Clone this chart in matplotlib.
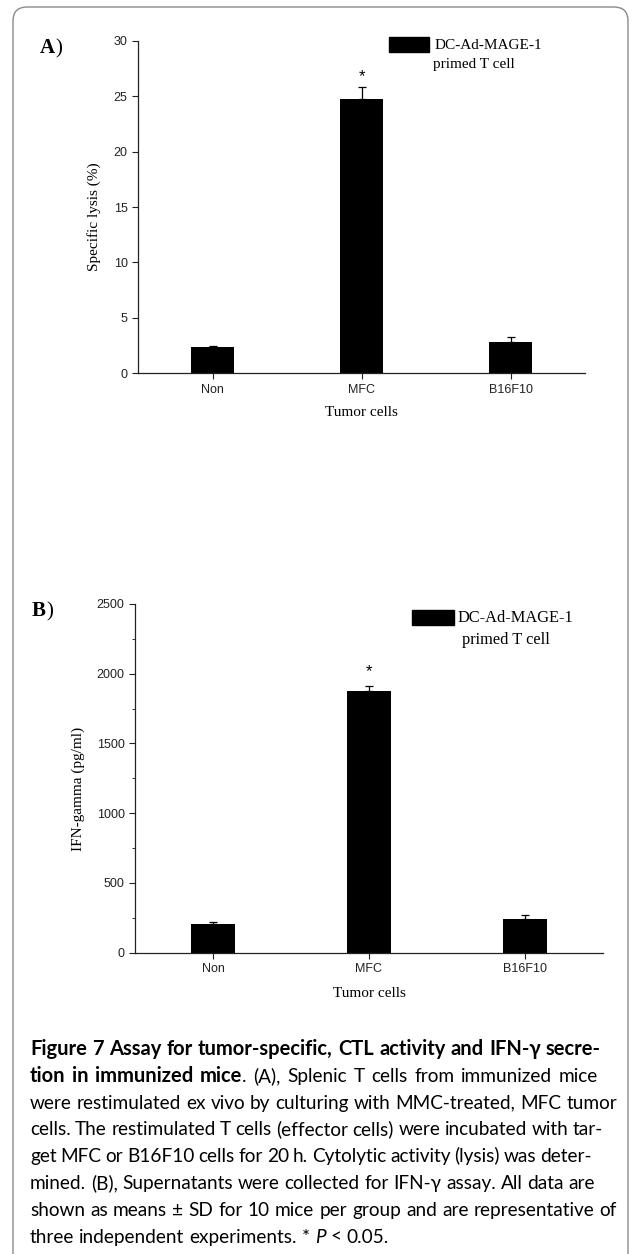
import matplotlib
matplotlib.use("Agg")
import matplotlib.pyplot as plt
from matplotlib.patches import Rectangle, FancyBboxPatch
from matplotlib.ticker import MultipleLocator
from matplotlib.transforms import IdentityTransform

# =====================
# data
# =====================
CATEGORIES = ["Non", "MFC", "B16F10"]
LYSIS = [2.35, 24.7, 2.85]
LYSIS_SD = [0.15, 1.15, 0.4]
IFN = [203, 1877, 244]
IFN_SD = [15, 33, 24]
LEGEND_LABEL = ["DC-Ad-MAGE-1", "primed T cell"]

W, H = 632, 1254
fig = plt.figure(figsize=(W / 100, H / 100), dpi=100)

SANS = "Liberation Sans"
SERIF = "Liberation Serif"
CAP = "Lato"

STYLES = {
    "b": dict(fontweight="bold", fontstyle="normal", fontsize=14.5),
    "r": dict(fontweight="normal", fontstyle="normal", fontsize=13.7),
    "i": dict(fontweight="normal", fontstyle="italic", fontsize=13.7),
}


def fy(px):
    return 1 - px / H


def put_runs(x_px, y_px, runs, size, family=SERIF):
    # place text pieces one after another on a single line
    renderer = fig.canvas.get_renderer()
    x = x_px / W
    for text, weight in runs:
        t = fig.text(x, fy(y_px), text, fontsize=size, fontweight=weight,
                     family=family, va="baseline", ha="left")
        x = t.get_window_extent(renderer).x1 / W


def split_words(runs):
    # runs -> words, each word a list of (piece, style)
    words, cur = [], []
    for text, st in runs:
        parts = text.split(" ")
        for j, p in enumerate(parts):
            if j > 0:
                if cur:
                    words.append(cur)
                cur = []
            if p:
                cur.append((p, st))
    if cur:
        words.append(cur)
    return words


def justified_line(x0, y_px, runs, x_end=None):
    renderer = fig.canvas.get_renderer()
    words = split_words(runs)
    arts = []
    for w in words:
        pieces = []
        for p, st in w:
            t = fig.text(0, fy(y_px), p, family=CAP, va="baseline", ha="left", **STYLES[st])
            pieces.append((t, t.get_window_extent(renderer).width))
        arts.append(pieces)
    widths = [sum(pw for _, pw in pieces) for pieces in arts]
    if x_end is None:
        probe = fig.text(0, 0, "x x", family=CAP, **STYLES["r"])
        probe2 = fig.text(0, 0, "xx", family=CAP, **STYLES["r"])
        gap = probe.get_window_extent(renderer).width - probe2.get_window_extent(renderer).width
        probe.remove()
        probe2.remove()
    else:
        gap = (x_end - x0 - sum(widths)) / (len(words) - 1)
    x = x0
    for pieces, wd in zip(arts, widths):
        xx = x
        for t, pw in pieces:
            t.set_x(xx / W)
            xx += pw
        x += wd + gap


def panel(rect, values, sd, ylim, major, ylabel, ylab_x, minor=None,
          star_off=10, leg=None, leg_size=10.5):
    ax = fig.add_axes(rect)
    x = range(1, len(CATEGORIES) + 1)
    ax.bar(x, values, width=0.285, color="black", zorder=2)
    ax.errorbar(x, values, yerr=[[0] * len(sd), sd], fmt="none",
                ecolor="black", elinewidth=0.9, capsize=3, capthick=0.9, zorder=3)
    ax.set_xlim(0.5, 3.5)
    ax.set_ylim(*ylim)
    ax.set_xticks(list(x))
    ax.set_xticklabels(CATEGORIES)
    ax.yaxis.set_major_locator(MultipleLocator(major))
    if minor:
        ax.yaxis.set_minor_locator(MultipleLocator(minor))
        ax.tick_params(axis="y", which="minor", direction="out", length=2.2,
                       width=0.7, color="#333333")
    for s in ["top", "right"]:
        ax.spines[s].set_visible(False)
    for s in ["left", "bottom"]:
        ax.spines[s].set_linewidth(0.9)
        ax.spines[s].set_color("#222222")
    ax.tick_params(axis="both", which="major", direction="out", length=4.5,
                   width=0.8, pad=3, labelsize=9, colors="#222222")
    for lab in ax.get_xticklabels() + ax.get_yticklabels():
        lab.set_family(SANS)
    ax.set_ylabel(ylabel, family=SERIF, fontsize=11)
    ax.yaxis.set_label_coords(ylab_x, 0.47)
    ax.set_xlabel("Tumor cells", family=SERIF, fontsize=11)
    ax.xaxis.set_label_coords(0.5, -0.098)

    # significance star above MFC
    i = CATEGORIES.index("MFC")
    ax.annotate("*", (i + 1, values[i] + sd[i]), xytext=(0, star_off),
                textcoords="offset pixels", ha="center", va="center",
                fontsize=12, family=SANS)

    # legend drawn as a filled box plus two text lines
    rx0, rx1, ry0, ry1, tx1, ty1, tx2, ty2 = leg
    ax.add_patch(Rectangle((rx0, ry0), rx1 - rx0, ry1 - ry0, transform=ax.transAxes,
                           facecolor="black", edgecolor="black", clip_on=False))
    ax.text(tx1, ty1, LEGEND_LABEL[0], transform=ax.transAxes, family=SERIF,
            fontsize=leg_size, va="center", ha="left")
    ax.text(tx2, ty2, LEGEND_LABEL[1], transform=ax.transAxes, family=SERIF,
            fontsize=leg_size, va="center", ha="left")
    return ax


axA = panel([138 / W, fy(373.3), 447 / W, 332.6 / H], LYSIS, LYSIS_SD, (0, 30), 5,
            "Specific lysis (%)", -0.082, star_off=10,
            leg=(0.5615, 0.651, 0.967, 1.010, 0.664, 0.985, 0.660, 0.928),
            leg_size=11)
axB = panel([135 / W, fy(952.7), 468 / W, 348.7 / H], IFN, IFN_SD, (0, 2500), 500,
            "IFN-gamma (pg/ml)", -0.107, minor=250, star_off=15,
            leg=(0.592, 0.682, 0.940, 0.983, 0.690, 0.961, 0.699, 0.898),
            leg_size=11.8)

# panel letters
put_runs(40, 53, [("A", "bold"), (")", "normal")], 15)
put_runs(32, 616, [("B", "bold"), (")", "normal")], 15)

# caption, justified like the journal page
CAPTION = [
    ([("Figure 7 Assay for tumor-specific, CTL activity and IFN-\u03b3 secre-", "b")], 601),
    ([("tion in immunized mice", "b"), (". (A), Splenic T cells from immunized mice", "r")], 598),
    ([("were restimulated ex vivo by culturing with MMC-treated, MFC tumor", "r")], 617),
    ([("cells. The restimulated T cells (effector cells) were incubated with tar-", "r")], 603),
    ([("get MFC or B16F10 cells for 20 h. Cytolytic activity (lysis) was deter-", "r")], 592),
    ([("mined. (B), Supernatants were collected for IFN-\u03b3 assay. All data are", "r")], 595),
    ([("shown as means \u00b1 SD for 10 mice per group and are representative of", "r")], 617),
    ([("three independent experiments. * ", "r"), ("P", "i"), (" < 0.05.", "r")], None),
]
base = 1055
step = 26.8
for k, (runs, x_end) in enumerate(CAPTION):
    justified_line(30, base + step * k, runs, x_end)

# rounded frame around the figure
fig.patches.append(FancyBboxPatch((13, -60), 615, H - 7 + 60,
                                  boxstyle="round,pad=0,rounding_size=14",
                                  transform=IdentityTransform(), facecolor="none",
                                  edgecolor="#8a8a8a", linewidth=1.0))

fig.savefig("out.png", dpi=100)
